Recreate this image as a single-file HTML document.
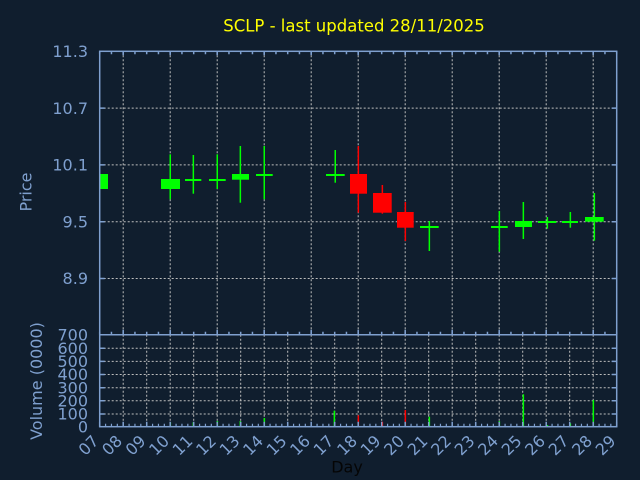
<!DOCTYPE html>
<html><head><meta charset="utf-8"><style>
html,body{margin:0;padding:0;background:#101e2e;}
svg{display:block;}
text{font-family:"DejaVu Sans","Liberation Sans",sans-serif;}
</style></head><body>
<svg width="640" height="480" viewBox="0 0 640 480" xmlns="http://www.w3.org/2000/svg">
<rect x="0" y="0" width="640" height="480" fill="#101e2e"/>

<!-- price grid -->
<g stroke="#bdbdbd" stroke-width="1" stroke-dasharray="2,2" fill="none">
<path d="M99.7 108.1H616.7M99.7 164.9H616.7M99.7 221.7H616.7M99.7 278.5H616.7"/>
<path d="M123.2 51.3V334.7M170.2 51.3V334.7M217.2 51.3V334.7M264.2 51.3V334.7M311.2 51.3V334.7M358.2 51.3V334.7M405.2 51.3V334.7M452.2 51.3V334.7M499.2 51.3V334.7M546.2 51.3V334.7M593.2 51.3V334.7"/>
<!-- volume grid -->
<path d="M99.7 348.3H616.7M99.7 361.4H616.7M99.7 374.5H616.7M99.7 387.7H616.7M99.7 400.8H616.7M99.7 414.0H616.7"/>
<path d="M123.2 334.7V426.7M146.7 334.7V426.7M170.2 334.7V426.7M193.7 334.7V426.7M217.2 334.7V426.7M240.7 334.7V426.7M264.2 334.7V426.7M287.7 334.7V426.7M311.2 334.7V426.7M334.7 334.7V426.7M358.2 334.7V426.7M381.7 334.7V426.7M405.2 334.7V426.7M428.7 334.7V426.7M452.2 334.7V426.7M475.7 334.7V426.7M499.2 334.7V426.7M522.7 334.7V426.7M546.2 334.7V426.7M569.7 334.7V426.7M593.2 334.7V426.7"/>
</g>

<!-- candles green -->
<g fill="#00ff00" stroke="none">
<rect x="99.7" y="174" width="8.3" height="15"/>
<rect x="169.5" y="154.3" width="1.5" height="45"/>
<rect x="161" y="179" width="19" height="10"/>
<rect x="192.6" y="155" width="1.5" height="38.7"/>
<rect x="185" y="179" width="16.3" height="2"/>
<rect x="216.5" y="154.3" width="1.5" height="34.7"/>
<rect x="209" y="179" width="16.7" height="2"/>
<rect x="239.6" y="146" width="1.5" height="56.7"/>
<rect x="232" y="174" width="17" height="5.7"/>
<rect x="263.5" y="146" width="1.5" height="53.3"/>
<rect x="256" y="174" width="16.7" height="2"/>
<rect x="334.5" y="150" width="1.5" height="32.7"/>
<rect x="326" y="174" width="18.7" height="2"/>
<rect x="428.6" y="221" width="1.5" height="30"/>
<rect x="420" y="226" width="18.7" height="2"/>
<rect x="498.6" y="211" width="1.5" height="40.7"/>
<rect x="491" y="226" width="16.7" height="2"/>
<rect x="522.6" y="202" width="1.5" height="37"/>
<rect x="515" y="221" width="17" height="6"/>
<rect x="546.6" y="217" width="1.5" height="11.7"/>
<rect x="538" y="221" width="18.3" height="2"/>
<rect x="569.6" y="212" width="1.5" height="15.7"/>
<rect x="562" y="221" width="16" height="2"/>
<rect x="593.6" y="193" width="1.5" height="47.7"/>
<rect x="585" y="217" width="18.7" height="4.7"/>
</g>
<!-- candles red -->
<g fill="#ff0000" stroke="none">
<rect x="357.6" y="146" width="1.5" height="66.7"/>
<rect x="350" y="174" width="17" height="19.7"/>
<rect x="381.6" y="185" width="1.5" height="28.7"/>
<rect x="373" y="193" width="18.7" height="19.7"/>
<rect x="404.6" y="202" width="1.5" height="39"/>
<rect x="397" y="212" width="16.7" height="15.7"/>
</g>

<!-- volume bars -->
<g fill="#00ff00">
<rect x="169.6" y="422.3" width="1.5" height="4.4"/>
<rect x="192.6" y="422.3" width="1.5" height="4.4"/>
<rect x="216.6" y="421" width="1.5" height="5.7"/>
<rect x="239.6" y="421" width="1.5" height="5.7"/>
<rect x="263.6" y="418" width="1.5" height="8.7"/>
<rect x="333.6" y="410.7" width="1.5" height="16"/>
<rect x="428.6" y="416.7" width="1.5" height="10"/>
<rect x="498.6" y="421" width="1.5" height="5.7"/>
<rect x="522.6" y="394.3" width="1.5" height="32.4"/>
<rect x="546.6" y="425" width="1.5" height="1.7"/>
<rect x="569.6" y="423.3" width="1.5" height="3.4"/>
<rect x="592.6" y="400" width="1.5" height="26.7"/>
</g>
<g fill="#ff0000">
<rect x="357.6" y="415.3" width="1.5" height="11.4"/>
<rect x="381.6" y="421.7" width="1.5" height="5"/>
<rect x="404.6" y="410" width="1.5" height="16.7"/>
</g>

<!-- axes frame -->
<g stroke="#7fa0cf" stroke-width="1.5" fill="none">
<rect x="99.7" y="51.3" width="517" height="375.4"/>
<path d="M99.7 334.7H616.7"/>
<!-- y ticks price -->
<path d="M99.7 108.1h5M99.7 164.9h5M99.7 221.7h5M99.7 278.5h5M616.7 108.1h-5M616.7 164.9h-5M616.7 221.7h-5M616.7 278.5h-5"/>
<!-- y ticks volume -->
<path d="M99.7 348.3h5M99.7 361.4h5M99.7 374.5h5M99.7 387.7h5M99.7 400.8h5M99.7 414.0h5M616.7 348.3h-5M616.7 361.4h-5M616.7 374.5h-5M616.7 387.7h-5M616.7 400.8h-5M616.7 414.0h-5"/>
</g>
<!-- x ticks via dashed lines -->
<g stroke="#7fa0cf" fill="none">
<path d="M98.95 52.8H617.5" stroke-width="3" stroke-dasharray="1.5 10.25"/>
<path d="M122.45 53.3H617.5" stroke-width="4" stroke-dasharray="1.5 45.5"/>
<path d="M98.95 333.2H617.5" stroke-width="3" stroke-dasharray="1.5 10.25"/>
<path d="M122.45 332.2H617.5" stroke-width="5" stroke-dasharray="1.5 45.5"/>
<path d="M99.1 425.2H617.5" stroke-width="3" stroke-dasharray="1.2 4.675"/>
<path d="M98.95 424.2H617.5" stroke-width="5" stroke-dasharray="1.5 22"/>
</g>

<!-- title -->
<text x="354" y="31.5" fill="#ffff00" font-size="16.5" text-anchor="middle">SCLP - last updated 28/11/2025</text>

<!-- y labels price -->
<g fill="#7fa0cf" font-size="16" text-anchor="end">
<text x="88" y="57">11.3</text>
<text x="88" y="113.8">10.7</text>
<text x="88" y="170.6">10.1</text>
<text x="88" y="227.4">9.5</text>
<text x="88" y="284.2">8.9</text>
<text x="88" y="340.3">700</text>
<text x="88" y="354">600</text>
<text x="88" y="367.1">500</text>
<text x="88" y="380.2">400</text>
<text x="88" y="393.4">300</text>
<text x="88" y="406.5">200</text>
<text x="88" y="419.7">100</text>
<text x="88" y="432.4">0</text>
</g>
<g fill="#7fa0cf" font-size="16" text-anchor="middle">
<text transform="translate(31.5,192) rotate(-90)">Price</text>
<text transform="translate(42,381) rotate(-90)">Volume (0000)</text>
</g>

<!-- x labels -->
<g fill="#7fa0cf" font-size="16" text-anchor="end">
<text transform="translate(99.7,442) rotate(-45)">07</text>
<text transform="translate(123.2,442) rotate(-45)">08</text>
<text transform="translate(146.7,442) rotate(-45)">09</text>
<text transform="translate(170.2,442) rotate(-45)">10</text>
<text transform="translate(193.7,442) rotate(-45)">11</text>
<text transform="translate(217.2,442) rotate(-45)">12</text>
<text transform="translate(240.7,442) rotate(-45)">13</text>
<text transform="translate(264.2,442) rotate(-45)">14</text>
<text transform="translate(287.7,442) rotate(-45)">15</text>
<text transform="translate(311.2,442) rotate(-45)">16</text>
<text transform="translate(334.7,442) rotate(-45)">17</text>
<text transform="translate(358.2,442) rotate(-45)">18</text>
<text transform="translate(381.7,442) rotate(-45)">19</text>
<text transform="translate(405.2,442) rotate(-45)">20</text>
<text transform="translate(428.7,442) rotate(-45)">21</text>
<text transform="translate(452.2,442) rotate(-45)">22</text>
<text transform="translate(475.7,442) rotate(-45)">23</text>
<text transform="translate(499.2,442) rotate(-45)">24</text>
<text transform="translate(522.7,442) rotate(-45)">25</text>
<text transform="translate(546.2,442) rotate(-45)">26</text>
<text transform="translate(569.7,442) rotate(-45)">27</text>
<text transform="translate(593.2,442) rotate(-45)">28</text>
<text transform="translate(616.7,442) rotate(-45)">29</text>
</g>

<text x="347" y="472.5" fill="#050505" font-size="16" text-anchor="middle">Day</text>
</svg>
</body></html>
